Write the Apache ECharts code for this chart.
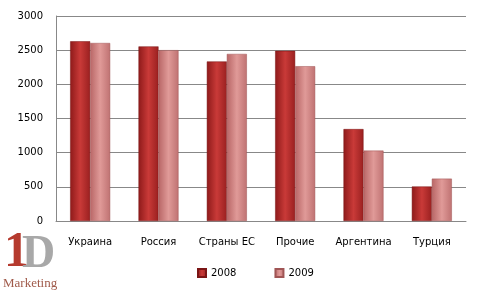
<!DOCTYPE html>
<html><head><meta charset="utf-8">
<script src="https://cdn.jsdelivr.net/npm/echarts@6/dist/echarts.min.js"></script>
<style>html,body{margin:0;padding:0;background:#fff}#c{width:484px;height:292px}</style>
</head><body><div id="c"></div>
<script>
const categories = ['Украина','Россия','Страны ЕС','Прочие','Аргентина','Турция'];
const values2008 = [2630, 2555, 2335, 2490, 1345, 505];
const values2009 = [2605, 2500, 2445, 2265, 1030, 620];
const yTicks = [0, 500, 1000, 1500, 2000, 2500, 3000];

const grad = (a,b,c) => new echarts.graphic.LinearGradient(0,0,1,0,[{offset:0,color:a},{offset:0.5,color:b},{offset:1,color:c}]);
const chart = echarts.init(document.getElementById('c'));
const font = 'DejaVu Sans';
chart.setOption({
  animation:false,
  textStyle:{fontFamily:font},
  grid:{left:56,right:18,top:16,bottom:71,containLabel:false},
  legend:{bottom:9,left:192,itemWidth:8,itemHeight:8,itemGap:38,icon:'rect',
    textStyle:{fontFamily:font,fontSize:10,color:'#000'},
    data:['2008','2009']},
  xAxis:{type:'category',data:categories,
    axisLine:{lineStyle:{color:'#888'}},axisTick:{show:false},
    axisLabel:{color:'#000',fontSize:10,fontFamily:font,margin:16,interval:0}},
  yAxis:{type:'value',min:yTicks[0],max:yTicks[yTicks.length-1],interval:500,
    axisLine:{show:true,lineStyle:{color:'#888'}},axisTick:{show:false},
    splitLine:{lineStyle:{color:'#888'}},
    axisLabel:{color:'#000',fontSize:10,fontFamily:font,margin:13,formatter:v=>String(v)}},
  series:[
    {name:'2008',type:'bar',data:values2008,barWidth:20,barGap:'0%',
      itemStyle:{color:grad('#8e1a1a','#c93a38','#9a2020'),borderColor:'#7a1515',borderWidth:0.5}},
    {name:'2009',type:'bar',data:values2009,barWidth:20,
      itemStyle:{color:grad('#b86666','#e09a98','#bf7272'),borderColor:'#a05555',borderWidth:0.5}}
  ],
  graphic:[
    {type:'text',left:4,top:228,style:{text:'1',font:'bold 50px "Liberation Serif"',fill:'#b53a2e'}},
    {type:'text',left:22,top:232,style:{text:'D',font:'bold 46px "Liberation Serif"',fill:'#a8a8a8'}},
    {type:'text',left:3,top:277,style:{text:'Marketing',font:'13px "Liberation Serif"',fill:'#a05a4a'}}
  ]
});
</script></body></html>
